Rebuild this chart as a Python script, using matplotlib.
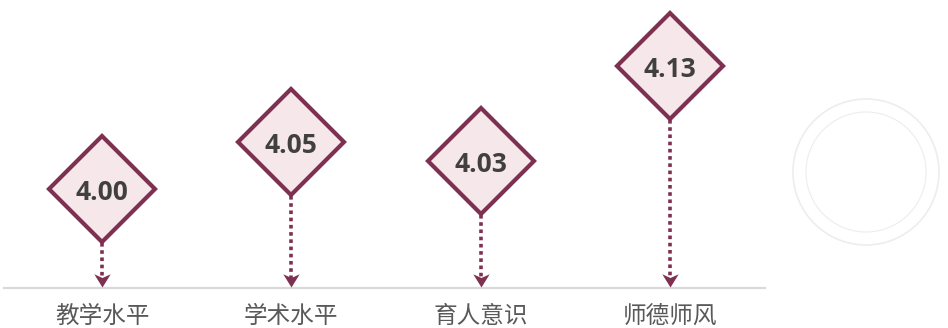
import matplotlib
matplotlib.use("Agg")
import matplotlib.pyplot as plt
from matplotlib.path import Path
from matplotlib.patches import Circle

categories = ["教学水平", "学术水平", "育人意识", "师德师风"]
scores = [4.00, 4.05, 4.03, 4.13]
value_labels = ["4.00", "4.05", "4.03", "4.13"]

EDGE = "#7E3050"
FILL = "#F6E7EB"
TEXT = "#404040"
LABEL = "#595959"

plt.rcParams['font.family'] = ['Noto Sans CJK SC', 'DejaVu Sans']

fig = plt.figure(figsize=(9.48, 3.28), dpi=100)
fig.patch.set_facecolor("white")

# faint watermark rings
for r, lw in [(0.73, 1.2), (0.60, 0.8)]:
    fig.add_artist(Circle((8.66, 3.28 - 1.72), r, transform=fig.dpi_scale_trans,
                          fill=False, edgecolor="#EDEDED", linewidth=lw))

ax = fig.add_axes([4 / 948, 40 / 328, 761 / 948, 288 / 328])
ax.set_facecolor("none")
ax.set_xlim(-0.518, 3.502)
ymin, ymax = 3.896, 4.200
ax.set_ylim(ymin, ymax)

x = list(range(len(categories)))

px_per_unit = 288 / (ymax - ymin)
half_h = 54 / px_per_unit

arrow_path = Path([(0, 0), (-0.62, 1.0), (0, 0.72), (0.62, 1.0), (0, 0)],
                  [Path.MOVETO, Path.LINETO, Path.LINETO, Path.LINETO, Path.CLOSEPOLY])

for xi, s in zip(x, scores):
    ax.plot([xi, xi], [s - half_h, ymin + 8 / px_per_unit], color=EDGE,
            linewidth=2.6, linestyle=(0, (1, 1)), dash_capstyle="butt",
            solid_capstyle="butt", zorder=2)
ax.plot(x, [ymin + 0.5 / px_per_unit] * len(x), linestyle="none", marker=arrow_path,
        markersize=19, color=EDGE, markeredgewidth=0, zorder=3, clip_on=False)

ax.plot(x, scores, linestyle="none", marker="D", markersize=54,
        markerfacecolor=FILL, markeredgecolor=EDGE, markeredgewidth=3.0, zorder=4)

for xi, s, t in zip(x, scores, value_labels):
    ax.text(xi, s, t, ha="center", va="center_baseline", fontsize=19,
            fontweight="bold", color=TEXT, family=["Open Sans", "DejaVu Sans"], zorder=5)

for sp in ["top", "right", "left"]:
    ax.spines[sp].set_visible(False)
ax.spines["bottom"].set_color("#D9D9D9")
ax.spines["bottom"].set_linewidth(1.6)
ax.set_yticks([])
ax.set_xticks(x)
ax.set_xticklabels(categories, fontsize=17, color=LABEL, fontweight="light")
ax.tick_params(axis="x", length=0, pad=12)

fig.savefig("out.png", dpi=100, facecolor="white")
